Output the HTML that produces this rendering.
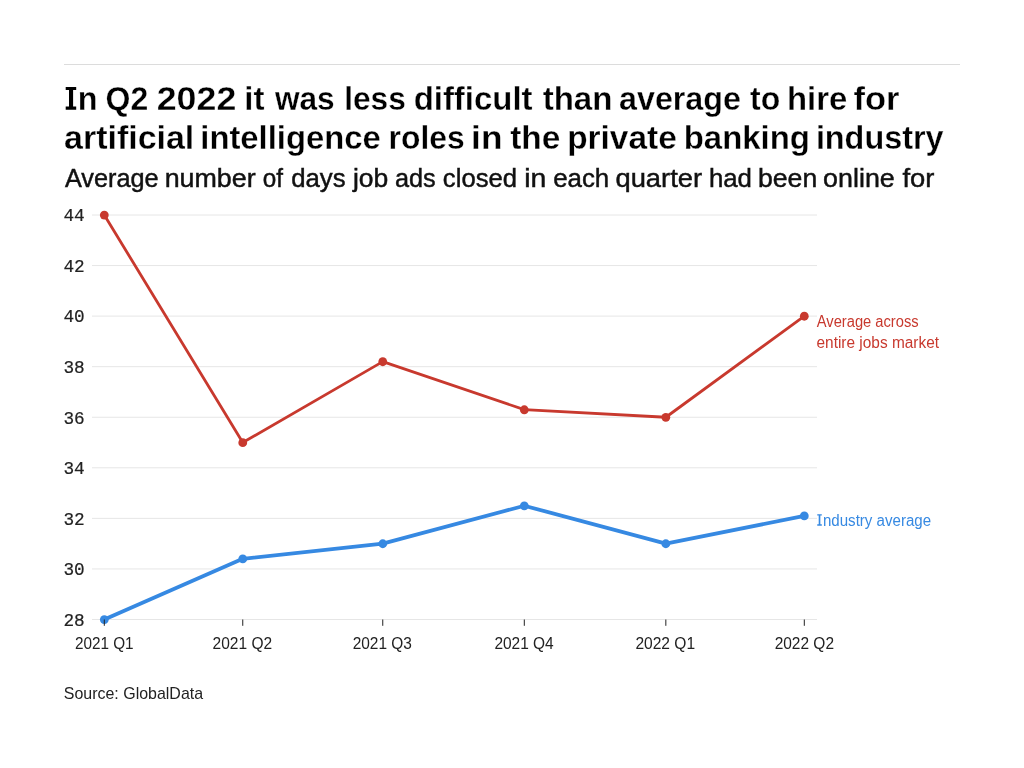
<!DOCTYPE html>
<html><head><meta charset="utf-8"><style>
html,body{margin:0;padding:0;background:#fff;}
body{width:1024px;height:768px;overflow:hidden;}
svg{display:block;will-change:transform;}
text{font-family:"Liberation Sans",sans-serif;}
.t{font-size:33px;font-weight:bold;fill:#000;stroke:#fff;stroke-width:0.3px;}
.st{font-size:25px;fill:#111;stroke:#111;stroke-width:0.45px;}
.lg{font-size:16px;}
.src{font-size:17px;fill:#222;}
.xl{font-size:16px;fill:#222;}

.ym{font-family:"Liberation Mono",monospace;font-size:18px;fill:#222;stroke:#222;stroke-width:0.2px;}
</style></head><body>
<svg width="1024" height="768" viewBox="0 0 1024 768">
<rect width="1024" height="768" fill="#fff"/>
<line x1="64" x2="960" y1="64.5" y2="64.5" stroke="#dcdcdc" stroke-width="1"/>
<path d="M65.7 86.9H76.2V90.1H73.1V106.6H76.2V109.8H65.7V106.6H69V90.1H65.7Z" fill="#000"/>
<path d="M817.25 514.2H821.8V515.6H820.35V524.35H821.8V525.75H817.25V524.35H818.7V515.6H817.25Z" fill="#3689e2"/>
<line x1="92" x2="817" y1="619.50" y2="619.50" stroke="#e6e6e6" stroke-width="1"/>
<text x="63.4" y="625.80" class="ym" textLength="21.3" lengthAdjust="spacingAndGlyphs">28</text>
<line x1="92" x2="817" y1="568.94" y2="568.94" stroke="#e6e6e6" stroke-width="1"/>
<text x="63.4" y="575.24" class="ym" textLength="21.3" lengthAdjust="spacingAndGlyphs">30</text>
<line x1="92" x2="817" y1="518.38" y2="518.38" stroke="#e6e6e6" stroke-width="1"/>
<text x="63.4" y="524.67" class="ym" textLength="21.3" lengthAdjust="spacingAndGlyphs">32</text>
<line x1="92" x2="817" y1="467.81" y2="467.81" stroke="#e6e6e6" stroke-width="1"/>
<text x="63.4" y="474.11" class="ym" textLength="21.3" lengthAdjust="spacingAndGlyphs">34</text>
<line x1="92" x2="817" y1="417.25" y2="417.25" stroke="#e6e6e6" stroke-width="1"/>
<text x="63.4" y="423.55" class="ym" textLength="21.3" lengthAdjust="spacingAndGlyphs">36</text>
<line x1="92" x2="817" y1="366.69" y2="366.69" stroke="#e6e6e6" stroke-width="1"/>
<text x="63.4" y="372.99" class="ym" textLength="21.3" lengthAdjust="spacingAndGlyphs">38</text>
<line x1="92" x2="817" y1="316.12" y2="316.12" stroke="#e6e6e6" stroke-width="1"/>
<text x="63.4" y="322.43" class="ym" textLength="21.3" lengthAdjust="spacingAndGlyphs">40</text>
<line x1="92" x2="817" y1="265.56" y2="265.56" stroke="#e6e6e6" stroke-width="1"/>
<text x="63.4" y="271.86" class="ym" textLength="21.3" lengthAdjust="spacingAndGlyphs">42</text>
<line x1="92" x2="817" y1="215.00" y2="215.00" stroke="#e6e6e6" stroke-width="1"/>
<text x="63.4" y="221.30" class="ym" textLength="21.3" lengthAdjust="spacingAndGlyphs">44</text>
<polyline points="104.30,215.00 242.76,442.53 382.76,361.63 524.30,409.67 665.84,417.25 804.30,316.12" fill="none" stroke="#c8392e" stroke-width="2.8" stroke-linejoin="round"/><circle cx="104.30" cy="215.10" r="4.4" fill="#c8392e"/><circle cx="242.76" cy="442.63" r="4.4" fill="#c8392e"/><circle cx="382.76" cy="361.73" r="4.4" fill="#c8392e"/><circle cx="524.30" cy="409.77" r="4.4" fill="#c8392e"/><circle cx="665.84" cy="417.35" r="4.4" fill="#c8392e"/><circle cx="804.30" cy="316.23" r="4.4" fill="#c8392e"/>
<polyline points="104.30,619.50 242.76,558.83 382.76,543.66 524.30,505.73 665.84,543.66 804.30,515.85" fill="none" stroke="#3689e2" stroke-width="3.8" stroke-linejoin="round"/><circle cx="104.30" cy="619.60" r="4.4" fill="#3689e2"/><circle cx="242.76" cy="558.93" r="4.4" fill="#3689e2"/><circle cx="382.76" cy="543.76" r="4.4" fill="#3689e2"/><circle cx="524.30" cy="505.83" r="4.4" fill="#3689e2"/><circle cx="665.84" cy="543.76" r="4.4" fill="#3689e2"/><circle cx="804.30" cy="515.95" r="4.4" fill="#3689e2"/>
<line x1="104.30" x2="104.30" y1="619.5" y2="625.8" stroke="#222" stroke-width="1"/>
<line x1="242.76" x2="242.76" y1="619.5" y2="625.8" stroke="#222" stroke-width="1"/>
<line x1="382.76" x2="382.76" y1="619.5" y2="625.8" stroke="#222" stroke-width="1"/>
<line x1="524.30" x2="524.30" y1="619.5" y2="625.8" stroke="#222" stroke-width="1"/>
<line x1="665.84" x2="665.84" y1="619.5" y2="625.8" stroke="#222" stroke-width="1"/>
<line x1="804.30" x2="804.30" y1="619.5" y2="625.8" stroke="#222" stroke-width="1"/>
<text x="77.87" y="109.8" class="t" textLength="19.74" lengthAdjust="spacingAndGlyphs">n</text>
<text x="105.51" y="109.8" class="t" textLength="42.70" lengthAdjust="spacingAndGlyphs">Q2</text>
<text x="156.71" y="109.8" class="t" textLength="79.61" lengthAdjust="spacingAndGlyphs">2022</text>
<text x="244.36" y="109.8" class="t" textLength="20.19" lengthAdjust="spacingAndGlyphs">it</text>
<text x="274.92" y="109.8" class="t" textLength="59.78" lengthAdjust="spacingAndGlyphs">was</text>
<text x="344.26" y="109.8" class="t" textLength="61.52" lengthAdjust="spacingAndGlyphs">less</text>
<text x="413.64" y="109.8" class="t" textLength="118.92" lengthAdjust="spacingAndGlyphs">difficult</text>
<text x="542.67" y="109.8" class="t" textLength="69.78" lengthAdjust="spacingAndGlyphs">than</text>
<text x="619.06" y="109.8" class="t" textLength="121.84" lengthAdjust="spacingAndGlyphs">average</text>
<text x="750.06" y="109.8" class="t" textLength="30.16" lengthAdjust="spacingAndGlyphs">to</text>
<text x="787.00" y="109.8" class="t" textLength="60.24" lengthAdjust="spacingAndGlyphs">hire</text>
<text x="853.58" y="109.8" class="t" textLength="45.92" lengthAdjust="spacingAndGlyphs">for</text>
<text x="64.10" y="149.0" class="t" textLength="130.20" lengthAdjust="spacingAndGlyphs">artificial</text>
<text x="200.34" y="149.0" class="t" textLength="180.33" lengthAdjust="spacingAndGlyphs">intelligence</text>
<text x="388.60" y="149.0" class="t" textLength="75.97" lengthAdjust="spacingAndGlyphs">roles</text>
<text x="471.14" y="149.0" class="t" textLength="31.33" lengthAdjust="spacingAndGlyphs">in</text>
<text x="510.16" y="149.0" class="t" textLength="50.06" lengthAdjust="spacingAndGlyphs">the</text>
<text x="567.17" y="149.0" class="t" textLength="109.57" lengthAdjust="spacingAndGlyphs">private</text>
<text x="683.72" y="149.0" class="t" textLength="126.21" lengthAdjust="spacingAndGlyphs">banking</text>
<text x="815.89" y="149.0" class="t" textLength="127.61" lengthAdjust="spacingAndGlyphs">industry</text>
<text x="64.95" y="186.6" class="st" textLength="93.68" lengthAdjust="spacingAndGlyphs">Average</text>
<text x="164.65" y="186.6" class="st" textLength="90.94" lengthAdjust="spacingAndGlyphs">number</text>
<text x="262.84" y="186.6" class="st" textLength="20.22" lengthAdjust="spacingAndGlyphs">of</text>
<text x="291.19" y="186.6" class="st" textLength="54.35" lengthAdjust="spacingAndGlyphs">days</text>
<text x="352.97" y="186.6" class="st" textLength="35.32" lengthAdjust="spacingAndGlyphs">job</text>
<text x="394.99" y="186.6" class="st" textLength="40.74" lengthAdjust="spacingAndGlyphs">ads</text>
<text x="442.87" y="186.6" class="st" textLength="74.12" lengthAdjust="spacingAndGlyphs">closed</text>
<text x="524.27" y="186.6" class="st" textLength="22.12" lengthAdjust="spacingAndGlyphs">in</text>
<text x="553.19" y="186.6" class="st" textLength="56.07" lengthAdjust="spacingAndGlyphs">each</text>
<text x="615.46" y="186.6" class="st" textLength="86.57" lengthAdjust="spacingAndGlyphs">quarter</text>
<text x="708.90" y="186.6" class="st" textLength="43.02" lengthAdjust="spacingAndGlyphs">had</text>
<text x="758.03" y="186.6" class="st" textLength="59.19" lengthAdjust="spacingAndGlyphs">been</text>
<text x="823.12" y="186.6" class="st" textLength="71.65" lengthAdjust="spacingAndGlyphs">online</text>
<text x="902.46" y="186.6" class="st" textLength="31.95" lengthAdjust="spacingAndGlyphs">for</text>
<text x="74.92" y="649" class="xl" textLength="58.64" lengthAdjust="spacingAndGlyphs">2021 Q1</text>
<text x="212.62" y="649" class="xl" textLength="59.55" lengthAdjust="spacingAndGlyphs">2021 Q2</text>
<text x="352.64" y="649" class="xl" textLength="59.24" lengthAdjust="spacingAndGlyphs">2021 Q3</text>
<text x="494.39" y="649" class="xl" textLength="59.35" lengthAdjust="spacingAndGlyphs">2021 Q4</text>
<text x="635.38" y="649" class="xl" textLength="59.70" lengthAdjust="spacingAndGlyphs">2022 Q1</text>
<text x="774.63" y="649" class="xl" textLength="59.38" lengthAdjust="spacingAndGlyphs">2022 Q2</text>
<text x="816.79" y="326.5" class="lg" fill="#c8392e" textLength="101.84" lengthAdjust="spacingAndGlyphs">Average across</text>
<text x="816.53" y="348.1" class="lg" fill="#c8392e" textLength="122.49" lengthAdjust="spacingAndGlyphs">entire jobs market</text>
<text x="822.94" y="525.8" class="lg" fill="#3689e2" textLength="108.12" lengthAdjust="spacingAndGlyphs">ndustry average</text>
<text x="63.80" y="698.8" class="src" textLength="139.28" lengthAdjust="spacingAndGlyphs">Source: GlobalData</text>
</svg>
</body></html>
